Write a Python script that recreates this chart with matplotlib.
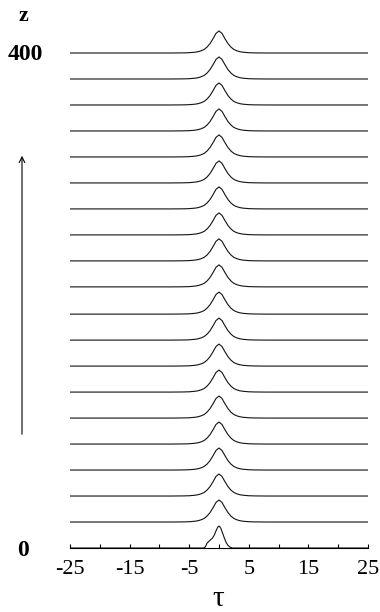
import matplotlib
matplotlib.use("Agg")
import matplotlib.pyplot as plt

# ---- data ----
z_values = [0, 21, 42, 63, 84, 105, 126, 147, 168, 189, 211, 232, 253, 274, 295, 316, 337, 358, 379, 400]

# pulse profile (normalized intensity), z > 0 traces
tau_pulse = [-25, -8, -6, -5, -4, -3.5, -3, -2.5, -2, -1.5, -1, -0.5, 0,
             0.5, 1, 1.5, 2, 2.5, 3, 3.5, 4, 5, 6, 8, 25]
amp_pulse = [0, 0, 0.005, 0.013, 0.037, 0.06, 0.1, 0.16, 0.27, 0.43, 0.65, 0.89, 1.0,
             0.89, 0.65, 0.43, 0.27, 0.16, 0.1, 0.06, 0.037, 0.013, 0.005, 0, 0]

# input pulse at z = 0 (asymmetric, with a shoulder on the left)
tau_input = [-25, -2.6, -2.3, -2.0, -1.7, -1.4, -1.1, -0.8, -0.5, -0.2, 0,
             0.3, 0.6, 0.9, 1.2, 1.5, 1.8, 2.2, 25]
amp_input = [0, 0, 0.05, 0.22, 0.3, 0.38, 0.45, 0.58, 0.78, 0.95, 1.0,
             0.9, 0.68, 0.45, 0.25, 0.12, 0.05, 0, 0]

xtick_major = [-25, -15, -5, 5, 15, 25]
xtick_minor = [-20, -10, 0, 10, 20]

# ---- figure ----
W, H = 380, 612
fig = plt.figure(figsize=(W / 100, H / 100), dpi=100)
px_per_z = 495 / 400
z_top = 420
ax = fig.add_axes([70 / W, (H - 548) / H, 298 / W, z_top * px_per_z / H])

scale = 17.8  # pulse height in z units
serif = ["Liberation Serif", "DejaVu Serif"]

for z in z_values:
    if z == 0:
        ax.plot(tau_input, [z + a * scale for a in amp_input], color="#111111", lw=0.8)
    else:
        ax.plot(tau_pulse, [z + a * scale for a in amp_pulse], color="#111111", lw=0.8)

ax.set_xlim(-25, 25)
ax.set_ylim(0, z_top)
for s in ["left", "right", "top"]:
    ax.spines[s].set_visible(False)
ax.spines["bottom"].set_linewidth(0.8)
ax.set_yticks([])
ax.set_xticks(xtick_major)
ax.set_xticks(xtick_minor, minor=True)
ax.set_xticklabels([str(v) for v in xtick_major], fontfamily=serif, fontsize=16)
ax.tick_params(axis="x", which="both", direction="in", length=3, width=0.8, pad=9)

fig.text(23 / W, 1 - 16 / H, "z", fontfamily=serif, fontweight="bold", fontsize=16,
         ha="center", va="center")
fig.text(25 / W, 1 - 54 / H, "400", fontfamily=serif, fontweight="bold", fontsize=17,
         ha="center", va="center")
fig.text(23 / W, 1 - 551 / H, "0", fontfamily=serif, fontweight="bold", fontsize=17,
         ha="center", va="center")
fig.text(218 / W, 1 - 599 / H, "τ", fontfamily=serif, fontsize=21,
         ha="center", va="center")

fig.add_artist(matplotlib.patches.FancyArrowPatch(
    (22 / W, 1 - 437 / H), (22 / W, 1 - 153 / H), transform=fig.transFigure,
    arrowstyle="->,head_length=4,head_width=2", lw=0.8, color="black",
    mutation_scale=1))

fig.savefig("out.png", dpi=100)
